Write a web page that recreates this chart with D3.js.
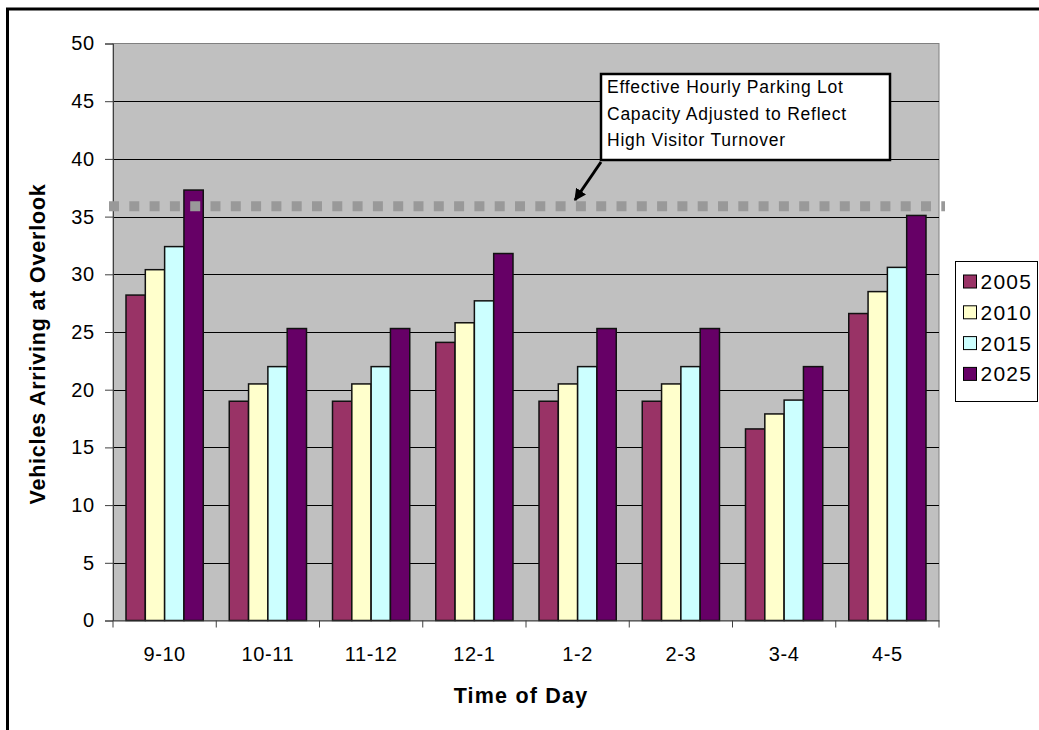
<!DOCTYPE html>
<html>
<head>
<meta charset="utf-8">
<script src="https://cdn.jsdelivr.net/npm/d3@7"></script>
<style>
  body { margin: 0; background: #fff; }
  svg { display: block; font-family: Arial, "Liberation Sans", sans-serif; }
</style>
</head>
<body>
<div id="chart"></div>
<script>
// Vehicles arriving at overlook - grouped bars per hour
const timeSlots = ['9-10', '10-11', '11-12', '12-1', '1-2', '2-3', '3-4', '4-5'];
const seriesYears = ['2005', '2010', '2015', '2025'];
const seriesColors = ['#993366', '#FFFFCC', '#CCFFFF', '#660066'];

const values2005 = [28.2, 19.0, 19.0, 24.1, 19.0, 19.0, 16.6, 26.6];
const values2010 = [30.4, 20.5, 20.5, 25.8, 20.5, 20.5, 17.9, 28.5];
const values2015 = [32.4, 22.0, 22.0, 27.7, 22.0, 22.0, 19.1, 30.6];
const values2025 = [37.3, 25.3, 25.3, 31.8, 25.3, 25.3, 22.0, 35.1];

const yTicks = [0, 5, 10, 15, 20, 25, 30, 35, 40, 45, 50];
const capacityValue = 35.9;
const calloutLines = ['Effective Hourly Parking Lot', 'Capacity Adjusted to Reflect', 'High Visitor Turnover'];

const seriesValues = [values2005, values2010, values2015, values2025];

const width = 1039, height = 730;
const plot = { left: 113, right: 939, top: 43.5, bottom: 620.5 };

const svg = d3.select('#chart').append('svg')
  .attr('width', width)
  .attr('height', height);

// Outer chart frame (runs off the right and bottom edges)
svg.append('rect')
  .attr('x', 7.5)
  .attr('y', 9)
  .attr('width', 1100)
  .attr('height', 800)
  .attr('fill', 'none')
  .attr('stroke', '#000')
  .attr('stroke-width', 3);

const x0 = d3.scaleBand()
  .domain(timeSlots)
  .range([plot.left, plot.right]);

const gap = 13;
const x1 = d3.scaleBand()
  .domain(seriesYears)
  .range([gap, x0.bandwidth() - gap]);

const y = d3.scaleLinear()
  .domain([0, 50])
  .range([plot.bottom, plot.top]);

// Plot background
svg.append('rect')
  .attr('x', plot.left)
  .attr('y', plot.top)
  .attr('width', plot.right - plot.left)
  .attr('height', plot.bottom - plot.top)
  .attr('fill', '#C0C0C0')
  .attr('stroke', '#808080')
  .attr('stroke-width', 1);

// Gridlines
svg.append('g')
  .selectAll('line')
  .data(yTicks.filter(d => d > 0 && d < 50))
  .enter()
  .append('line')
  .attr('x1', plot.left)
  .attr('x2', plot.right)
  .attr('y1', d => Math.round(y(d)) + 0.5)
  .attr('y2', d => Math.round(y(d)) + 0.5)
  .attr('stroke', '#000')
  .attr('stroke-width', 1);

// Bars
const groups = svg.append('g')
  .selectAll('g')
  .data(timeSlots)
  .enter()
  .append('g')
  .attr('transform', d => `translate(${x0(d)},0)`);

groups.selectAll('rect')
  .data((slot, i) => seriesYears.map((year, s) => ({ year, s, value: seriesValues[s][i] })))
  .enter()
  .append('rect')
  .attr('x', d => x1(d.year))
  .attr('y', d => y(d.value))
  .attr('width', x1.bandwidth())
  .attr('height', d => y(0) - y(d.value))
  .attr('fill', d => seriesColors[d.s])
  .attr('stroke', '#111')
  .attr('stroke-width', 1.5);

// Y axis
const yAxis = svg.append('g')
  .attr('transform', `translate(${plot.left},0)`)
  .call(d3.axisLeft(y).tickValues(yTicks).tickSize(8).tickPadding(10));
yAxis.select('.domain').attr('stroke', '#404040');
yAxis.selectAll('.tick line').attr('stroke', '#404040');
yAxis.selectAll('text')
  .attr('font-size', '20px')
  .attr('letter-spacing', '0.8px')
  .attr('fill', '#000')
  .attr('font-family', 'Arial, "Liberation Sans", sans-serif');

// X axis
const xAxis = svg.append('g')
  .attr('transform', `translate(0,${plot.bottom})`)
  .call(d3.axisBottom(x0).tickSize(0).tickPadding(26));
xAxis.select('.domain').attr('stroke', '#404040');
xAxis.selectAll('text')
  .attr('font-size', '20px')
  .attr('letter-spacing', '0.6px')
  .attr('fill', '#000')
  .attr('font-family', 'Arial, "Liberation Sans", sans-serif');

// Category separator ticks
svg.append('g')
  .selectAll('line')
  .data(timeSlots.concat(['end']))
  .enter()
  .append('line')
  .attr('x1', (d, i) => plot.left + i * x0.bandwidth())
  .attr('x2', (d, i) => plot.left + i * x0.bandwidth())
  .attr('y1', plot.bottom)
  .attr('y2', plot.bottom + 7)
  .attr('stroke', '#404040');

// Capacity line (dotted)
svg.append('line')
  .attr('x1', plot.left - 4)
  .attr('x2', plot.right + 6)
  .attr('y1', y(capacityValue))
  .attr('y2', y(capacityValue))
  .attr('stroke', '#999999')
  .attr('stroke-width', 10)
  .attr('stroke-dasharray', '10,10.3');

// Callout box
const box = { x: 601, y: 74, w: 289, h: 86 };
svg.append('rect')
  .attr('x', box.x)
  .attr('y', box.y)
  .attr('width', box.w)
  .attr('height', box.h)
  .attr('fill', '#fff')
  .attr('stroke', '#000')
  .attr('stroke-width', 2.5);

svg.append('g')
  .selectAll('text')
  .data(calloutLines)
  .enter()
  .append('text')
  .attr('x', box.x + 6)
  .attr('y', (d, i) => 93 + i * 26.5)
  .attr('font-size', '17.5px')
  .attr('letter-spacing', '0.75px')
  .attr('fill', '#000')
  .text(d => d);

// Arrow from the box to the capacity line
svg.append('defs').append('marker')
  .attr('id', 'arrowhead')
  .attr('viewBox', '0 0 10 10')
  .attr('refX', 9)
  .attr('refY', 5)
  .attr('markerWidth', 4)
  .attr('markerHeight', 4)
  .attr('orient', 'auto')
  .append('path')
  .attr('d', 'M0,0 L10,5 L0,10 Z')
  .attr('fill', '#000');

svg.append('line')
  .attr('x1', box.x)
  .attr('y1', box.y + box.h + 2)
  .attr('x2', 575)
  .attr('y2', 200)
  .attr('stroke', '#000')
  .attr('stroke-width', 3)
  .attr('marker-end', 'url(#arrowhead)');

// Axis titles
svg.append('text')
  .attr('transform', 'translate(45,344) rotate(-90)')
  .attr('text-anchor', 'middle')
  .attr('font-size', '21.5px')
  .attr('font-weight', 'bold')
  .attr('letter-spacing', '0.8px')
  .text('Vehicles Arriving at Overlook');

svg.append('text')
  .attr('x', 521)
  .attr('y', 703)
  .attr('text-anchor', 'middle')
  .attr('font-size', '21.5px')
  .attr('font-weight', 'bold')
  .attr('letter-spacing', '1.2px')
  .text('Time of Day');

// Legend
const legend = svg.append('g')
  .attr('transform', 'translate(955.5,261.5)');

legend.append('rect')
  .attr('width', 82)
  .attr('height', 140)
  .attr('fill', '#fff')
  .attr('stroke', '#000')
  .attr('stroke-width', 1);

const legendItems = legend.selectAll('.legend-item')
  .data(seriesYears)
  .enter()
  .append('g')
  .attr('class', 'legend-item')
  .attr('transform', (d, i) => `translate(0,${20 + i * 30.8})`);

legendItems.append('rect')
  .attr('x', 8)
  .attr('y', -6.5)
  .attr('width', 13)
  .attr('height', 13)
  .attr('fill', (d, i) => seriesColors[i])
  .attr('stroke', '#000')
  .attr('stroke-width', 1);

legendItems.append('text')
  .attr('x', 25)
  .attr('y', 7.5)
  .attr('font-size', '21px')
  .attr('letter-spacing', '1.2px')
  .attr('fill', '#000')
  .text(d => d);
</script>
</body>
</html>
